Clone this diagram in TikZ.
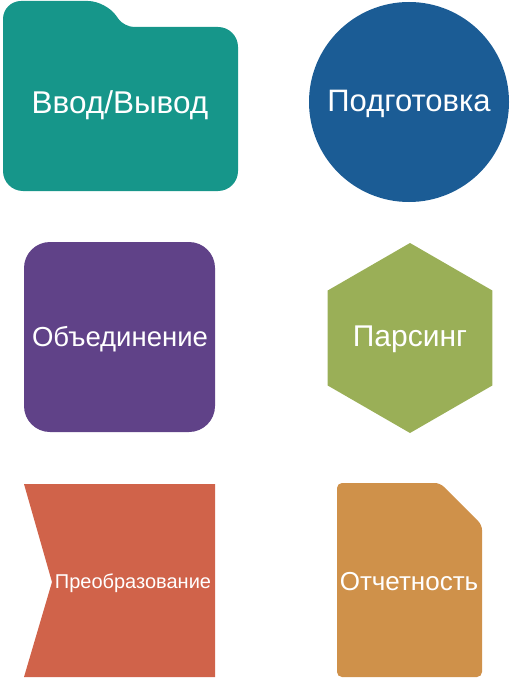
\documentclass[tikz,border=0pt]{standalone}
\usepackage{fontspec}
\setmainfont{Liberation Sans}
\definecolor{cteal}{RGB}{22,150,138}
\definecolor{cblue}{RGB}{27,92,149}
\definecolor{cpurple}{RGB}{96,66,136}
\definecolor{cgreen}{RGB}{154,175,87}
\definecolor{cred}{RGB}{208,99,74}
\definecolor{corange}{RGB}{207,145,74}
\tikzset{
  lbl/.style={text=white, inner sep=0pt, font=\fontsize{#1}{#1}\selectfont},
}
\begin{document}
\begin{tikzpicture}[x=1pt,y=-1pt]
\useasboundingbox (0,0) rectangle (512,679);
% folder
\fill[cteal, rounded corners=18pt] (3,191) -- (3,1) -- (106,1) [rounded corners=10pt] -- (124,27) [rounded corners=20pt] -- (238,27) -- (238,191) -- cycle;
\node[lbl=31.5] (io) at (120,105) {Ввод/Вывод};
% circle
\fill[cblue] (409,102) circle (100pt);
\node[lbl=31] (prep) at (409,104) {Подготовка};
% rounded square
\fill[cpurple, rounded corners=26pt] (24,242) rectangle (215,432);
\node[lbl=27.5] (merge) at (120,339) {Объединение};
% hexagon
\fill[cgreen] (410,243) -- (492.3,290.5) -- (492.3,385.5) -- (410,433) -- (327.7,385.5) -- (327.7,290.5) -- cycle;
\node[lbl=30] (parse) at (410,339) {Парсинг};
% chevron
\fill[cred] (24,484) -- (215,484) -- (215,677) -- (24,677) -- (52,582) -- cycle;
\node[lbl=20] (trans) at (133,583) {Преобразование};
% document
\fill[corange, rounded corners=5pt] (337,483) -- (440,483) -- (482,525) -- (482,677) -- (337,677) -- cycle;
\node[lbl=26] (report) at (409,582) {Отчетность};
\end{tikzpicture}
\end{document}
